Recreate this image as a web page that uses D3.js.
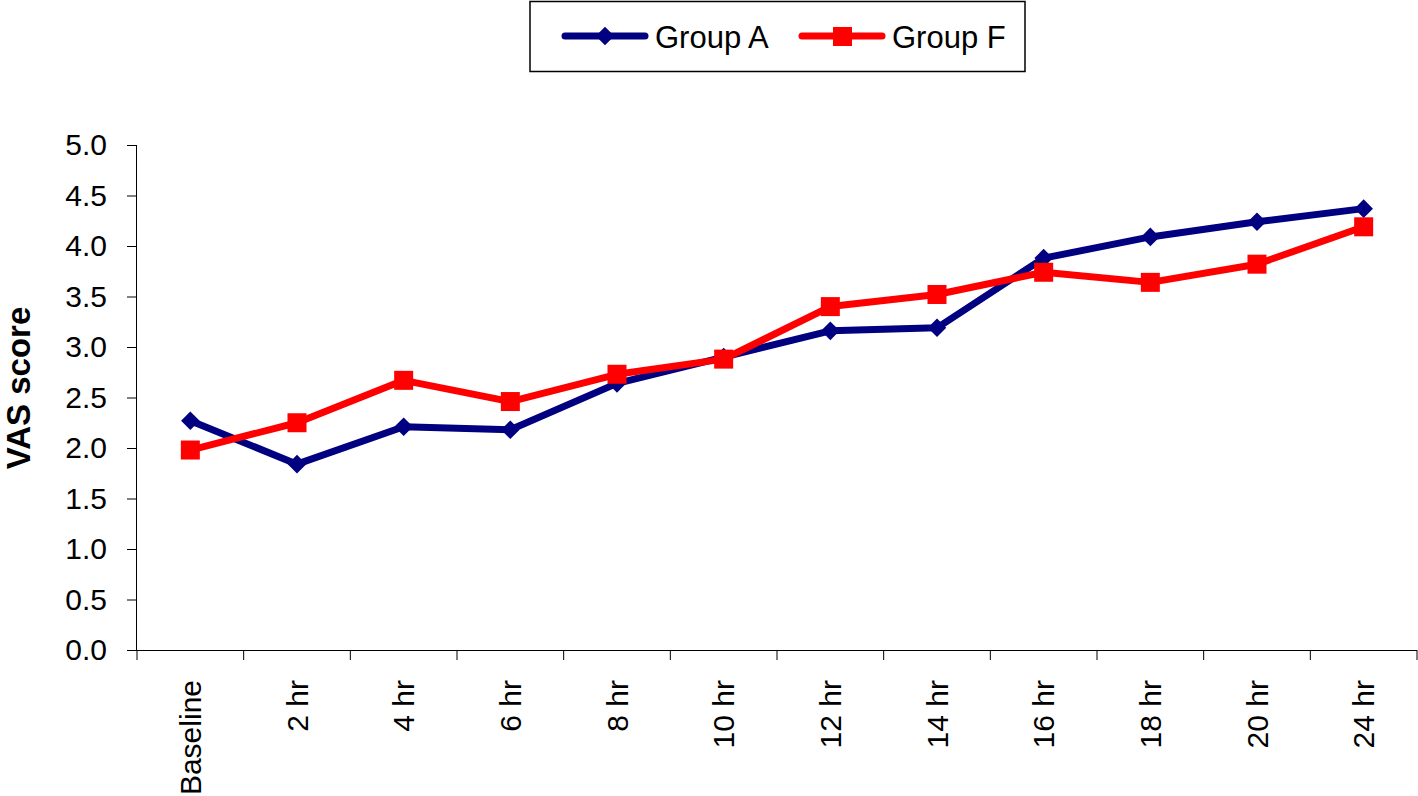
<!DOCTYPE html>
<html>
<head>
<meta charset="utf-8">
<script src="https://cdn.jsdelivr.net/npm/d3@7"></script>
<style>
  body { margin: 0; background: #fff; }
  svg { display: block; font-family: "Liberation Sans", Arial, sans-serif; }
</style>
</head>
<body>
<svg id="chart"></svg>
<script>
const categories = ['Baseline', '2 hr', '4 hr', '6 hr', '8 hr', '10 hr', '12 hr', '14 hr', '16 hr', '18 hr', '20 hr', '24 hr'];
const groupA = [2.27, 1.84, 2.21, 2.18, 2.64, 2.90, 3.16, 3.19, 3.88, 4.09, 4.24, 4.37];
const groupF = [1.98, 2.25, 2.67, 2.46, 2.73, 2.88, 3.40, 3.52, 3.74, 3.64, 3.82, 4.19];
const yTicks = [0, 0.5, 1, 1.5, 2, 2.5, 3, 3.5, 4, 4.5, 5];

const W = 1418, H = 796;
const svg = d3.select('#chart').attr('width', W).attr('height', H);

const x = d3.scaleBand().domain(categories).range([137, 1417]).padding(0);
const y = d3.scaleLinear().domain([0, 5]).range([650, 145]);

// y axis
const yAxis = svg.append('g')
    .attr('transform', 'translate(137,0)')
    .call(d3.axisLeft(y).tickValues(yTicks).tickFormat(d3.format('.1f')).tickSize(10).tickPadding(20));
yAxis.select('.domain').attr('d', `M-0.5,${y(5)}V${y(0)}`);
yAxis.selectAll('text').style('font-size', '30px').attr('fill', '#000');

// x axis: labels at band centres, ticks at band edges
const xAxis = svg.append('g')
    .attr('transform', 'translate(0,650)')
    .call(d3.axisBottom(x).tickSize(0).tickPadding(0));
xAxis.select('.domain').attr('d', `M137,0.5H1417`);
xAxis.selectAll('text')
    .style('font-size', '30px')
    .attr('fill', '#000')
    .attr('transform', 'rotate(-90)')
    .attr('text-anchor', 'end')
    .attr('x', -30)
    .attr('y', 0)
    .attr('dy', '0.35em');

xAxis.selectAll('.edge')
    .data(d3.range(categories.length + 1))
    .join('line')
    .attr('class', 'edge')
    .attr('x1', i => x.range()[0] + i * x.step())
    .attr('x2', i => x.range()[0] + i * x.step())
    .attr('y1', 0)
    .attr('y2', 10)
    .attr('stroke', '#000');

svg.append('text')
    .attr('transform', `translate(30,388) rotate(-90)`)
    .attr('text-anchor', 'middle')
    .style('font-size', '33px')
    .style('font-weight', 'bold')
    .text('VAS score');

const cx = d => x(d) + x.bandwidth() / 2;
const line = d3.line().x((d, i) => cx(categories[i])).y(d => y(d));

const diamond = d3.symbol().type(d3.symbolDiamond2).size(220);

// Group A
svg.append('path').datum(groupA)
    .attr('d', line).attr('fill', 'none')
    .attr('stroke', '#000080').attr('stroke-width', 7).attr('stroke-linejoin', 'round');
svg.selectAll('.markA').data(groupA).join('path')
    .attr('class', 'markA')
    .attr('d', diamond)
    .attr('transform', (d, i) => `translate(${cx(categories[i])},${y(d)})`)
    .attr('fill', '#000080');

// Group F
svg.append('path').datum(groupF)
    .attr('d', line).attr('fill', 'none')
    .attr('stroke', '#ff0000').attr('stroke-width', 7).attr('stroke-linejoin', 'round');
svg.selectAll('.markF').data(groupF).join('rect')
    .attr('class', 'markF')
    .attr('x', (d, i) => cx(categories[i]) - 9.5)
    .attr('y', d => y(d) - 9.5)
    .attr('width', 19).attr('height', 19)
    .attr('fill', '#ff0000');

// legend
const legend = svg.append('g');
legend.append('rect')
    .attr('x', 530).attr('y', 1.5).attr('width', 495).attr('height', 70)
    .attr('fill', '#fff').attr('stroke', '#000').attr('stroke-width', 1.5);

const legendItems = [
    { name: 'Group A', color: '#000080', x0: 562 },
    { name: 'Group F', color: '#ff0000', x0: 799 }
];
legendItems.forEach((it, k) => {
    const g = legend.append('g');
    g.append('line')
        .attr('x1', it.x0 + 3).attr('x2', it.x0 + 83).attr('y1', 36).attr('y2', 36)
        .attr('stroke', it.color).attr('stroke-width', 7).attr('stroke-linecap', 'round');
    if (k === 0) {
        g.append('path').attr('d', diamond).attr('transform', `translate(${it.x0 + 43},36)`).attr('fill', it.color);
    } else {
        g.append('rect').attr('x', it.x0 + 34).attr('y', 27).attr('width', 19).attr('height', 19).attr('fill', it.color);
    }
    g.append('text')
        .attr('x', it.x0 + 93).attr('y', 37).attr('dy', '0.35em')
        .style('font-size', '31px')
        .text(it.name);
});
</script>
</body>
</html>
